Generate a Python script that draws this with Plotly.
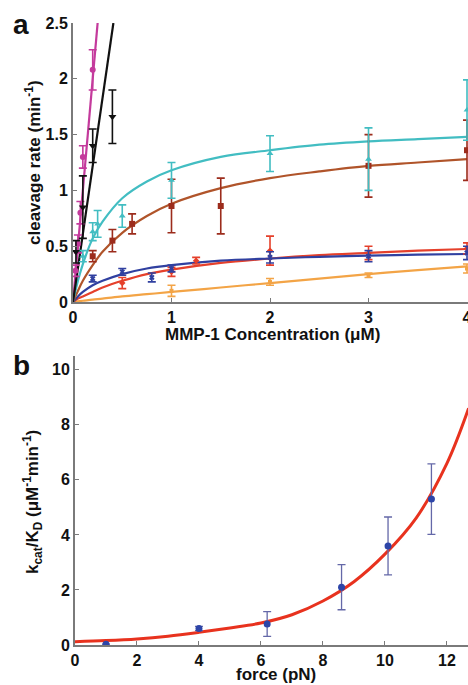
import plotly.graph_objects as go

# ---- painel a: taxa de clivagem vs MMP-1 ----
conc_fit = [0, 0.05, 0.1, 0.2, 0.3, 0.5, 0.75, 1, 1.5, 2, 2.5, 3, 3.5, 4]
cyan_fit = [0, 0.19, 0.34, 0.57, 0.72, 0.93, 1.08, 1.18, 1.30, 1.36, 1.41, 1.44, 1.46, 1.48]
brown_fit = [0, 0.10, 0.19, 0.33, 0.45, 0.62, 0.77, 0.88, 1.02, 1.11, 1.17, 1.22, 1.25, 1.28]
red_fit = [0, 0.03, 0.05, 0.09, 0.13, 0.19, 0.25, 0.29, 0.35, 0.39, 0.42, 0.44, 0.46, 0.475]
blue_fit = [0, 0.05, 0.09, 0.15, 0.19, 0.25, 0.30, 0.33, 0.37, 0.39, 0.405, 0.415, 0.424, 0.43]
orange_fit = [0, 0.006, 0.011, 0.022, 0.03, 0.05, 0.07, 0.09, 0.13, 0.17, 0.21, 0.25, 0.285, 0.32]

magenta_line_x = [0, 0.25]
magenta_line_y = [0, 2.5]
black_line_x = [0, 0.41]
black_line_y = [0, 2.5]

magenta_x = [0.025, 0.05, 0.075, 0.1, 0.2]
magenta_y = [0.28, 0.52, 0.80, 1.30, 2.08]
magenta_e = [0.05, 0.08, 0.10, 0.10, 0.18]

black_x = [0.03, 0.1, 0.2, 0.4]
black_y = [0.45, 0.85, 1.40, 1.66]
black_e = [0.10, 0.28, 0.15, 0.24]

cyan_x = [0.1, 0.2, 0.25, 0.5, 1, 2, 3, 4]
cyan_y = [0.41, 0.63, 0.70, 0.77, 1.09, 1.33, 1.28, 1.72]
cyan_e = [0.05, 0.08, 0.12, 0.10, 0.16, 0.16, 0.28, 0.27]

brown_x = [0.2, 0.4, 0.6, 1, 1.5, 3, 4]
brown_y = [0.41, 0.55, 0.70, 0.86, 0.86, 1.22, 1.36]
brown_e = [0.05, 0.10, 0.09, 0.24, 0.25, 0.28, 0.27]

red_x = [0.5, 1, 1.25, 2, 3, 4]
red_y = [0.17, 0.27, 0.37, 0.46, 0.44, 0.48]
red_e = [0.05, 0.04, 0.03, 0.13, 0.06, 0.05]

blue_x = [0.2, 0.5, 0.8, 1, 2, 3, 4]
blue_y = [0.21, 0.27, 0.22, 0.30, 0.40, 0.41, 0.44]
blue_e = [0.03, 0.03, 0.04, 0.03, 0.05, 0.05, 0.06]

orange_x = [1, 2, 3, 4]
orange_y = [0.10, 0.18, 0.24, 0.30]
orange_e = [0.05, 0.03, 0.02, 0.04]

# ---- painel b: kcat/KD vs forca ----
force_fit = [0, 1, 2, 3, 4, 5, 6, 7, 8, 9, 10, 11, 12, 12.7]
kcat_fit = [0.12, 0.16, 0.22, 0.32, 0.46, 0.62, 0.80, 1.10, 1.60, 2.30, 3.30, 4.60, 6.60, 8.60]
force_x = [1, 4, 6.2, 8.6, 10.1, 11.5]
kcat_y = [0.03, 0.60, 0.76, 2.10, 3.60, 5.30]
kcat_e = [0.0, 0.08, 0.45, 0.82, 1.05, 1.28]

FONT = "Liberation Sans, Arial, sans-serif"
AXIS_GRAY = "#7a7a7a"

fig = go.Figure()

def fit_line(x, y, color, xa, ya, width=2.2):
    fig.add_trace(go.Scatter(x=x, y=y, mode="lines", line=dict(color=color, width=width, shape="spline"),
                             xaxis=xa, yaxis=ya, showlegend=False, hoverinfo="skip"))

def pontos(x, y, e, color, symbol, size, xa, ya, ecolor=None, ethick=1.6):
    fig.add_trace(go.Scatter(x=x, y=y, mode="markers",
                             marker=dict(color=color, symbol=symbol, size=size),
                             error_y=dict(type="data", array=e, color=ecolor or color,
                                          thickness=ethick, width=4),
                             xaxis=xa, yaxis=ya, showlegend=False))

# curvas do painel a
fit_line(conc_fit, orange_fit, "#f3a446", "x", "y")
fit_line(conc_fit, red_fit, "#e5402b", "x", "y")
fit_line(conc_fit, blue_fit, "#3040a0", "x", "y")
fit_line(conc_fit, brown_fit, "#b0542a", "x", "y")
fit_line(conc_fit, cyan_fit, "#42bdc2", "x", "y")
fit_line(magenta_line_x, magenta_line_y, "#c43a9c", "x", "y")
fit_line(black_line_x, black_line_y, "#111111", "x", "y")

pontos(orange_x, orange_y, orange_e, "#f3a446", "square", 4, "x", "y")
pontos(red_x, red_y, red_e, "#e5402b", "diamond", 5, "x", "y")
pontos(blue_x, blue_y, blue_e, "#3040a0", "x", 5, "x", "y")
pontos(brown_x, brown_y, brown_e, "#9c2c1c", "square", 6, "x", "y")
pontos(cyan_x, cyan_y, cyan_e, "#42bdc2", "triangle-up", 6, "x", "y")
pontos(magenta_x, magenta_y, magenta_e, "#c43a9c", "circle", 6, "x", "y")
pontos(black_x, black_y, black_e, "#111111", "triangle-down", 7, "x", "y")

# painel b
fit_line(force_fit, kcat_fit, "#e8321e", "x2", "y2", width=3)
pontos(force_x, kcat_y, kcat_e, "#2d45a8", "circle", 7, "x2", "y2", ecolor="#6468a8", ethick=1.3)

eixo = dict(showgrid=False, zeroline=False, showline=True, linecolor=AXIS_GRAY, linewidth=2,
            ticks="inside", ticklen=4, tickcolor=AXIS_GRAY, tickwidth=1,
            tickfont=dict(family=FONT, size=16, color="#111", weight="bold"),
            ticklabeloverflow="allow", automargin=False, fixedrange=True)

fig.update_layout(
    width=468, height=685,
    margin=dict(l=0, r=0, t=0, b=0),
    paper_bgcolor="white", plot_bgcolor="white",
    font=dict(family=FONT, color="#111"),
    xaxis=dict(eixo, domain=[73 / 468, 1.0], range=[0, 4.01], anchor="y",
               tickvals=[0, 1, 2, 3, 4], ticktext=["0", "1", "2", "3", "4"]),
    yaxis=dict(eixo, domain=[1 - 302 / 685, 1 - 23 / 685], range=[0, 2.5], anchor="x",
               tickvals=[0, 0.5, 1, 1.5, 2, 2.5], ticktext=["0", "0.5", "1", "1.5", "2", "2.5"]),
    xaxis2=dict(eixo, domain=[75 / 468, 1.0], range=[0, 12.68], anchor="y2",
                tickvals=[0, 2, 4, 6, 8, 10, 12]),
    yaxis2=dict(eixo, domain=[1 - 645 / 685, 1 - 356 / 685], range=[0, 10.5], anchor="x2",
                tickvals=[0, 2, 4, 6, 8, 10]),
)

titulo = dict(family=FONT, size=17, color="#111", weight="bold")
centro = dict(xref="paper", yref="paper", showarrow=False, xanchor="center", yanchor="middle")
fig.add_annotation(centro, x=272 / 468, y=1 - 334 / 685,
                   text="MMP-1 Concentration (μM)", font=titulo)
fig.add_annotation(centro, x=276 / 468, y=1 - 674 / 685,
                   text="force (pN)", font=titulo)
fig.add_annotation(centro, x=33 / 468, y=1 - 163 / 685,
                   text="cleavage rate (min<sup>-1</sup>)", textangle=-90, font=titulo)
fig.add_annotation(centro, x=32 / 468, y=1 - 502 / 685,
                   text="k<sub>cat</sub>/K<sub>D</sub> (μM<sup>-1</sup>min<sup>-1</sup>)",
                   textangle=-90, font=titulo)
painel = dict(family=FONT, size=28, color="#111", weight="bold")
fig.add_annotation(centro, x=21 / 468, y=1 - 24 / 685, text="a", font=painel)
fig.add_annotation(centro, x=21 / 468, y=1 - 366 / 685, text="b", font=painel)

# tirar a margem padrao do body para a figura ficar no canto
fig.write_html("out.html", config={"displayModeBar": False},
               post_script="document.body.style.margin='0';")
